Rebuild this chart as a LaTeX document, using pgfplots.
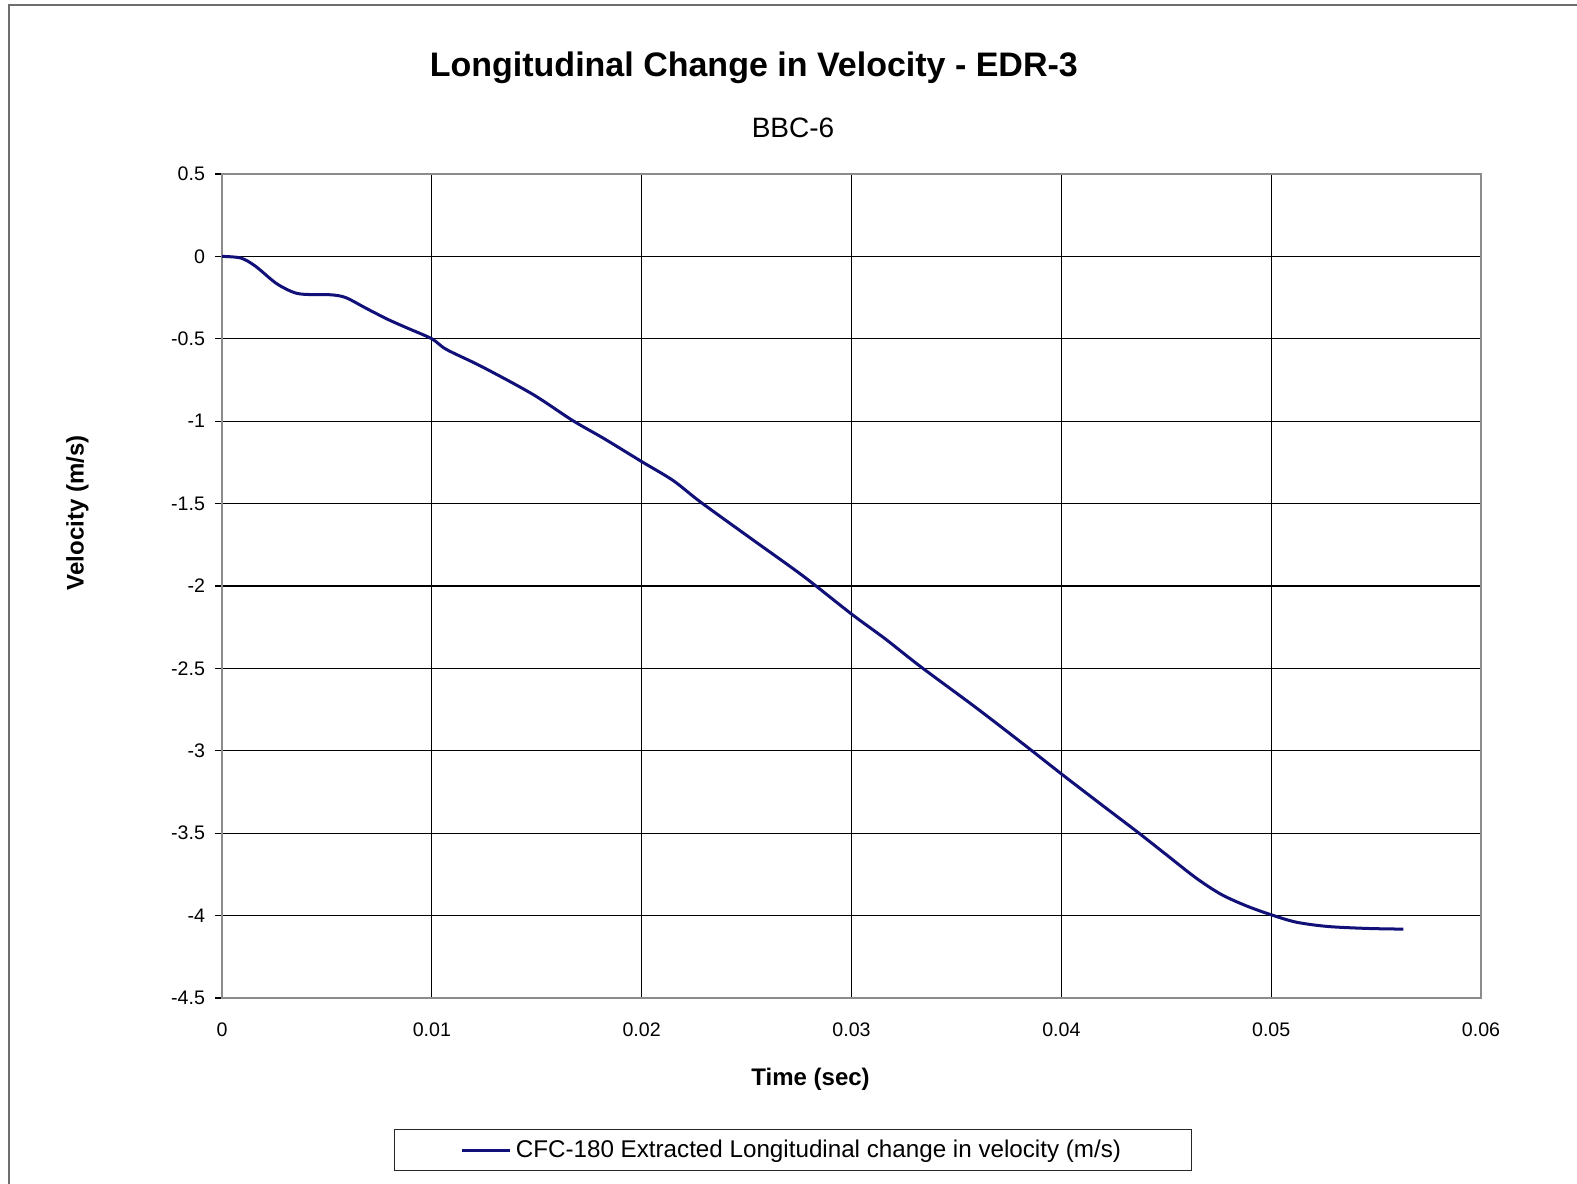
\documentclass[border=0pt]{standalone}
\usepackage{pgfplots}
\pgfplotsset{compat=1.18}
\usepackage{fontspec}
\setmainfont{Liberation Sans}
\definecolor{curve}{RGB}{16,16,120}
\definecolor{frame}{RGB}{110,110,110}
\begin{document}
\begin{tikzpicture}
\useasboundingbox (-111pt,-92.5pt) rectangle (677.5pt,499pt);
\fill[white] (-111pt,-92.5pt) rectangle (677.5pt,499pt);
\draw[frame, line width=1pt] (-106.5pt,-100pt) -- (-106.5pt,496.5pt) -- (700pt,496.5pt);
\begin{axis}[
  at={(0,0)}, anchor=south west,
  scale only axis, width=629.5pt, height=412pt,
  xmin=0, xmax=0.06, ymin=-4.5, ymax=0.5,
  xtick={0,0.01,0.02,0.03,0.04,0.05,0.06},
  xticklabels={0,0.01,0.02,0.03,0.04,0.05,0.06},
  ytick={-4.5,-4,-3.5,-3,-2.5,-2,-1.5,-1,-0.5,0,0.5},
  yticklabels={-4.5,-4,-3.5,-3,-2.5,-2,-1.5,-1,-0.5,0,0.5},
  scaled x ticks=false,
  ytick pos=left, xtick pos=bottom,
  grid=major, major grid style={black, line width=0.55pt},
  axis line style={draw=gray!90, line width=1pt},
  tick style={black, line width=0.6pt},
  xtick style={draw=none},
  ytick align=outside, major tick length=3.5pt,
  tick label style={font=\fontsize{9.8}{11}\selectfont},
  yticklabel style={xshift=-1.5pt},
  xticklabel style={yshift=-9pt},
  xlabel={\textbf{Time (sec)}},
  ylabel={\textbf{Velocity (m/s)}},
  label style={font=\fontsize{12}{14}\selectfont},
  xlabel style={at={(294.3pt,-40.6pt)}, anchor=center},
  ylabel style={at={(-72.3pt,242.5pt)}, anchor=center, rotate=0},
  legend style={at={(0.4535,-0.1845)}, anchor=center, draw=black!85, line width=0.5pt,
    font=\fontsize{12.1}{14}\selectfont, inner xsep=33pt, inner ysep=3pt},
  legend image code/.code={\draw[#1, line width=1.5pt] (0pt,0pt) -- (24pt,0pt);},
  clip=false,
]
\addplot[curve, line width=1.5pt, smooth] table[row sep=\\] {
t v\\
0 0\\
0.0009 -0.01\\
0.0016 -0.06\\
0.0026 -0.165\\
0.0035 -0.222\\
0.0043 -0.232\\
0.0052 -0.233\\
0.0059 -0.25\\
0.0069 -0.317\\
0.0079 -0.382\\
0.0088 -0.433\\
0.0100 -0.5\\
0.0107 -0.565\\
0.0124 -0.67\\
0.0148 -0.836\\
0.0167 -0.995\\
0.0182 -1.105\\
0.0200 -1.245\\
0.0215 -1.36\\
0.0228 -1.49\\
0.0253 -1.72\\
0.0277 -1.94\\
0.0300 -2.17\\
0.0316 -2.32\\
0.0333 -2.49\\
0.0359 -2.735\\
0.0383 -2.97\\
0.0400 -3.14\\
0.0421 -3.345\\
0.0436 -3.49\\
0.0450 -3.63\\
0.0464 -3.77\\
0.0476 -3.87\\
0.0488 -3.94\\
0.0500 -3.995\\
0.0512 -4.04\\
0.0527 -4.066\\
0.0546 -4.078\\
0.0563 -4.082\\
};
\addlegendentry{CFC-180 Extracted Longitudinal change in velocity (m/s)}
\end{axis}
\node[anchor=base, font=\bfseries\fontsize{17}{20}\selectfont] at (265.9pt,460.8pt) {Longitudinal Change in Velocity - EDR-3};
\node[anchor=base, font=\fontsize{14}{16}\selectfont] at (285.5pt,430.1pt) {BBC-6};
\end{tikzpicture}
\end{document}
